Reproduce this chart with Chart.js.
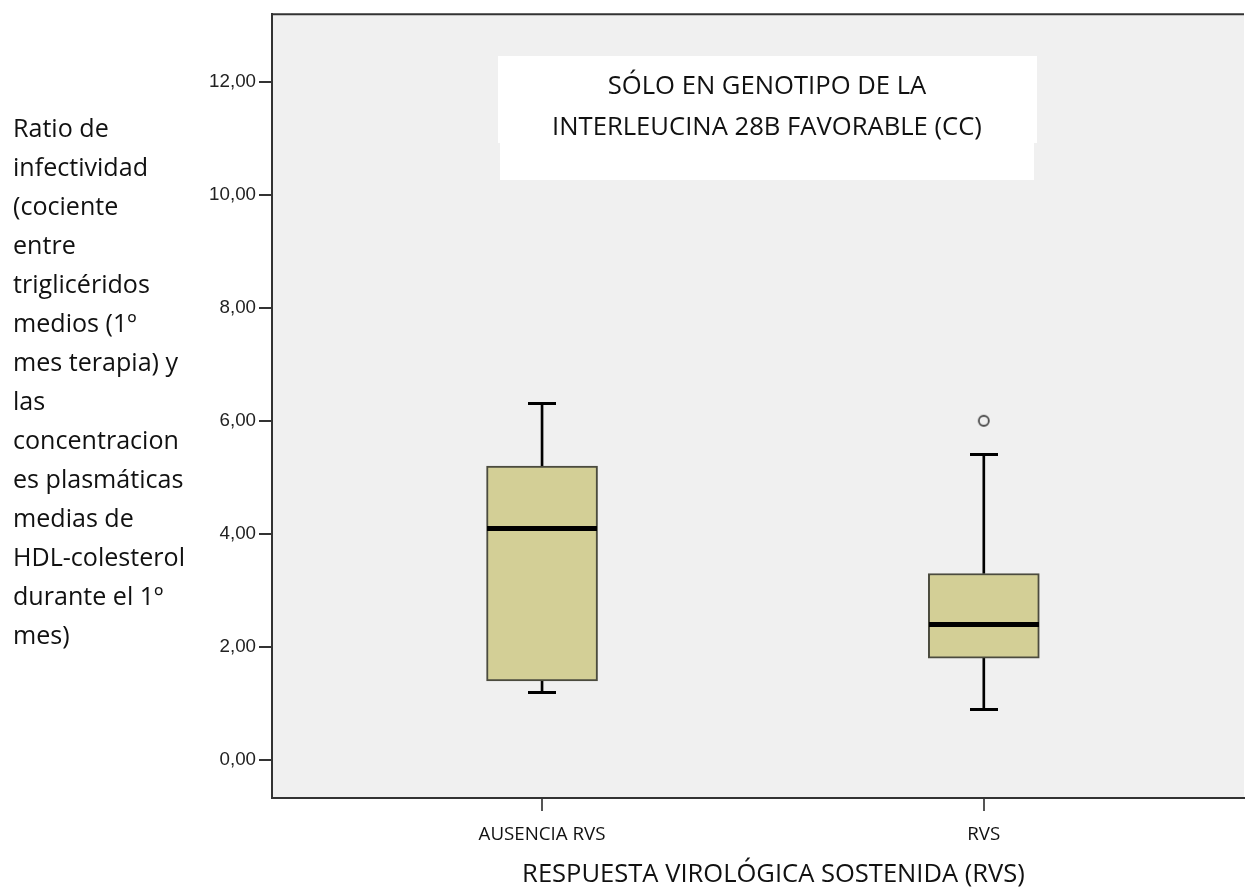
<!DOCTYPE html>
<html>
<head>
<meta charset="utf-8">
<script src="https://cdn.jsdelivr.net/npm/chart.js@4.4.1/dist/chart.umd.min.js"></script>
<style>
  html, body { margin: 0; padding: 0; background: #ffffff; }
  #wrap { position: relative; width: 1245px; height: 887px; }
</style>
</head>
<body>
<div id="wrap"><canvas id="c"></canvas></div>
<script>
// ---- data ----
const categories   = ['AUSENCIA RVS', 'RVS'];
const categoryPos  = [1, 2];
const whiskerLow   = [1.2, 0.9];
const q1           = [1.4, 1.8];
const median       = [4.1, 2.4];
const q3           = [5.2, 3.3];
const whiskerHigh  = [6.3, 5.4];
const outliers     = [[], [6.0]];
const yTicks       = [0, 2, 4, 6, 8, 10, 12];

const chartTitle = ['SÓLO EN GENOTIPO DE LA', 'INTERLEUCINA 28B FAVORABLE (CC)'];
const yTitle = ['Ratio de', 'infectividad', '(cociente', 'entre', 'triglicéridos', 'medios (1º',
  'mes terapia) y', 'las', 'concentracion', 'es plasmáticas', 'medias de', 'HDL-colesterol',
  'durante el 1º', 'mes)'];
const xTitle = 'RESPUESTA VIROLÓGICA SOSTENIDA (RVS)';

// ---- font fitting helpers ----
const SANS = '"Open Sans", sans-serif';
const ARIAL = '"Liberation Sans", Arial, sans-serif';
const mctx = document.createElement('canvas').getContext('2d');
function fit(text, family, target) {
  mctx.font = '100px ' + family;
  return 100 * target / mctx.measureText(text).width;
}
const yTitleSize = fit('HDL-colesterol', SANS, 172);
const titleSize  = fit(chartTitle[1], SANS, 430);
const xTitleSize = fit(xTitle, SANS, 503);
const xTickSize  = fit('AUSENCIA RVS', SANS, 127);
const yTickSize  = fit('12,00', ARIAL, 47);

// glyphs used as point styles (median line, whisker caps, outlier ring)
function hLine(w, h, color) {
  const c = document.createElement('canvas');
  c.width = w; c.height = h;
  const g = c.getContext('2d');
  g.fillStyle = color;
  g.fillRect(0, 0, w, h);
  return c;
}
function ring(d, r, lw, color) {
  const c = document.createElement('canvas');
  c.width = d; c.height = d;
  const g = c.getContext('2d');
  g.strokeStyle = color;
  g.lineWidth = lw;
  g.beginPath();
  g.arc(d / 2, d / 2, r, 0, Math.PI * 2);
  g.stroke();
  return c;
}
const medianGlyph  = hLine(110, 5, '#000000');
const capGlyph     = hLine(28, 3, '#000000');
const outlierGlyph = ring(14, 5, 1.8, '#4a4a4a');

// ---- build datasets ----
const boxData   = categoryPos.map((x, i) => ({ x, y: [q1[i], q3[i]] }));
const upperWh   = categoryPos.map((x, i) => ({ x, y: [q3[i], whiskerHigh[i]] }));
const lowerWh   = categoryPos.map((x, i) => ({ x, y: [whiskerLow[i], q1[i]] }));
const medData   = categoryPos.map((x, i) => ({ x, y: median[i] }));
const capData   = categoryPos.flatMap((x, i) => [{ x, y: whiskerLow[i] }, { x, y: whiskerHigh[i] }]);
const outData   = categoryPos.flatMap((x, i) => outliers[i].map(v => ({ x, y: v })));

const decor = {
  id: 'decor',
  beforeDraw(chart) {
    const { ctx, chartArea: a } = chart;
    ctx.save();
    ctx.fillStyle = '#ffffff';
    ctx.fillRect(0, 0, chart.width, chart.height);
    ctx.fillStyle = '#f0f0f0';
    ctx.fillRect(a.left, a.top, a.right - a.left, a.bottom - a.top);
    ctx.restore();
  },
  beforeDatasetsDraw(chart) {
    const { ctx } = chart;
    ctx.save();
    ctx.fillStyle = '#ffffff';
    ctx.fillRect(498, 56, 539, 87);
    ctx.fillRect(500, 56, 534, 124);
    ctx.fillStyle = '#111111';
    ctx.font = titleSize.toFixed(2) + 'px ' + SANS;
    ctx.textAlign = 'center';
    ctx.textBaseline = 'alphabetic';
    ctx.fillText(chartTitle[0], 767, 94);
    ctx.fillText(chartTitle[1], 767, 135);
    ctx.restore();
  },
  afterDraw(chart) {
    const { ctx, chartArea: a } = chart;
    ctx.save();
    ctx.strokeStyle = '#333333';
    ctx.lineWidth = 2;
    ctx.beginPath();
    ctx.moveTo(a.left - 1, a.top);
    ctx.lineTo(a.right, a.top);
    ctx.stroke();
    ctx.fillStyle = '#111111';
    ctx.textAlign = 'left';
    ctx.textBaseline = 'alphabetic';
    ctx.font = yTitleSize.toFixed(2) + 'px ' + SANS;
    yTitle.forEach((line, i) => ctx.fillText(line, 13, 137 + i * 39));
    ctx.textAlign = 'center';
    ctx.font = xTitleSize.toFixed(2) + 'px ' + SANS;
    ctx.fillText(xTitle, 773.5, 882);
    ctx.restore();
  }
};

new Chart(document.getElementById('c'), {
  type: 'bar',
  data: {
    datasets: [
      { type: 'scatter', data: medData, pointStyle: medianGlyph, pointRadius: 1, pointHoverRadius: 1,
        borderWidth: 0, pointBorderWidth: 0, order: 1 },
      { type: 'scatter', data: capData, pointStyle: capGlyph, pointRadius: 1, pointHoverRadius: 1,
        borderWidth: 0, pointBorderWidth: 0, order: 2 },
      { type: 'scatter', data: outData, pointStyle: outlierGlyph, pointRadius: 1, pointHoverRadius: 1,
        borderWidth: 0, pointBorderWidth: 0, order: 3 },
      { type: 'bar', data: boxData, backgroundColor: '#d3cf96', borderColor: '#4b4b3e', borderWidth: 2,
        borderSkipped: false, barThickness: 111, grouped: false, order: 4 },
      { type: 'bar', data: upperWh, backgroundColor: '#000000', borderWidth: 0, borderSkipped: false,
        barThickness: 2, grouped: false, order: 5 },
      { type: 'bar', data: lowerWh, backgroundColor: '#000000', borderWidth: 0, borderSkipped: false,
        barThickness: 2, grouped: false, order: 6 }
    ]
  },
  options: {
    responsive: true,
    maintainAspectRatio: false,
    animation: false,
    events: [],
    layout: { padding: { top: 13.5, left: 0, right: 0, bottom: 0 } },
    plugins: { legend: { display: false }, tooltip: { enabled: false }, title: { display: false } },
    scales: {
      x: {
        type: 'linear',
        min: 0.3887,
        max: 2.589,
        offset: false,
        afterFit(s) { s.height = 89; },
        afterBuildTicks(s) { s.ticks = categoryPos.map(v => ({ value: v })); },
        grid: { display: true, offset: false, drawOnChartArea: false, drawTicks: true, tickLength: 13,
                color: '#555555', lineWidth: 2 },
        border: { display: true, color: '#333333', width: 2 },
        ticks: {
          autoSkip: false, maxRotation: 0, padding: 12, color: '#111111',
          font: { family: SANS, size: xTickSize },
          callback: (v) => categories[categoryPos.indexOf(v)] ?? ''
        }
      },
      y: {
        type: 'linear',
        min: -0.671,
        max: 13.19,
        afterFit(s) { s.width = 272; },
        afterBuildTicks(s) { s.ticks = yTicks.map(v => ({ value: v })); },
        grid: { display: true, drawOnChartArea: false, drawTicks: true, tickLength: 13,
                color: '#333333', lineWidth: 2 },
        border: { display: true, color: '#333333', width: 2 },
        ticks: {
          padding: 3, color: '#222222',
          font: { family: ARIAL, size: yTickSize },
          callback: (v) => v.toFixed(2).replace('.', ',')
        }
      }
    }
  },
  plugins: [decor]
});
</script>
</body>
</html>
